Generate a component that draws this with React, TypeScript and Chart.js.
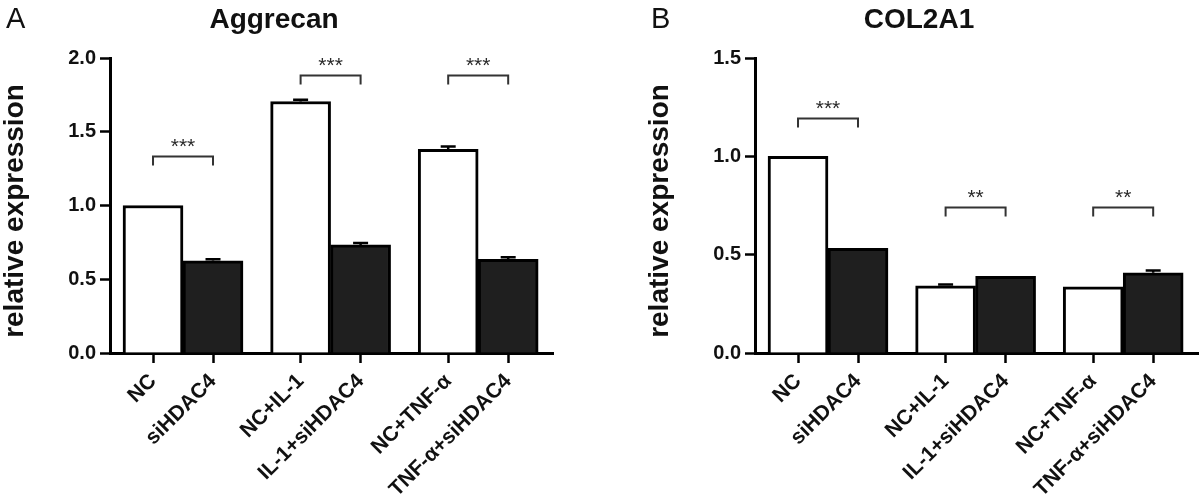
import React, { useEffect, useRef } from 'react';
import { Chart, registerables } from 'chart.js';

Chart.register(...registerables);

// ---- data ----
const categories = ['NC', 'siHDAC4', 'NC+IL-1', 'IL-1+siHDAC4', 'NC+TNF-α', 'TNF-α+siHDAC4'];

const aggrecanValues = [1.0, 0.625, 1.705, 0.733, 1.38, 0.635];
const aggrecanErrors = [0, 0.01, 0.012, 0.012, 0.02, 0.015];
const aggrecanBrackets = [1.338, 1.885, 1.885];
const aggrecanStars = ['***', '***', '***'];
const aggrecanYTicks = [0, 0.5, 1.0, 1.5, 2.0];

const col2a1Values = [1.0, 0.532, 0.342, 0.39, 0.336, 0.408];
const col2a1Errors = [0, 0, 0.006, 0, 0, 0.012];
const col2a1Brackets = [1.195, 0.742, 0.74];
const col2a1Stars = ['***', '**', '**'];
const col2a1YTicks = [0, 0.5, 1.0, 1.5];

const yAxisTitle = 'relative expression';

// ---- layout / style ----
const FONT = '"Liberation Sans", Arial, Helvetica, sans-serif';
const GROUP_STEP = 2.46;
const pos = (i: number) => Math.floor(i / 2) * GROUP_STEP + (i % 2);
const INK = '#111111';
const BLACK_FILL = '#1f1f1f';

interface PanelCfg {
  letter: string;
  title: string;
  values: number[];
  errors: number[];
  brackets: number[];
  stars: string[];
  yTicks: number[];
}

function makeAnnotPlugin(cfg: PanelCfg) {
  return {
    id: 'annot',
    afterDatasetsDraw(chart: any) {
      const { ctx } = chart;
      const x = chart.scales.x;
      const y = chart.scales.y;
      ctx.save();
      // error bars
      ctx.strokeStyle = '#000';
      ctx.lineWidth = 2.5;
      cfg.values.forEach((v, i) => {
        const e = cfg.errors[i];
        if (!e) return;
        const px = x.getPixelForValue(pos(i));
        const y0 = y.getPixelForValue(v);
        const y1 = y.getPixelForValue(v + e);
        ctx.beginPath();
        ctx.moveTo(px, y0);
        ctx.lineTo(px, y1);
        ctx.moveTo(px - 7.5, y1);
        ctx.lineTo(px + 7.5, y1);
        ctx.stroke();
      });
      // significance brackets
      ctx.strokeStyle = '#333';
      ctx.lineWidth = 2;
      ctx.fillStyle = '#2a2a2a';
      ctx.font = `21px ${FONT}`;
      ctx.textAlign = 'center';
      ctx.textBaseline = 'alphabetic';
      cfg.brackets.forEach((b, g) => {
        const x1 = x.getPixelForValue(pos(2 * g));
        const x2 = x.getPixelForValue(pos(2 * g + 1));
        const yt = Math.round(y.getPixelForValue(b)) + 0.5;
        ctx.beginPath();
        ctx.moveTo(x1, yt + 9);
        ctx.lineTo(x1, yt);
        ctx.lineTo(x2, yt);
        ctx.lineTo(x2, yt + 9);
        ctx.stroke();
        ctx.fillText(cfg.stars[g], (x1 + x2) / 2, yt - 4);
      });
      ctx.restore();
    },
    afterDraw(chart: any) {
      const { ctx } = chart;
      ctx.save();
      ctx.fillStyle = INK;
      ctx.textBaseline = 'alphabetic';
      ctx.textAlign = 'left';
      ctx.font = `29px ${FONT}`;
      ctx.fillText(cfg.letter, 6, 28);
      ctx.textAlign = 'center';
      ctx.font = `bold 28px ${FONT}`;
      ctx.fillText(cfg.title, 274, 28);
      // y axis title
      ctx.translate(23, 211);
      ctx.rotate(-Math.PI / 2);
      ctx.font = `bold 28px ${FONT}`;
      ctx.fillText(yAxisTitle, 0, 0);
      ctx.restore();
    },
  };
}

function Panel({ cfg, left }: { cfg: PanelCfg; left: number }) {
  const ref = useRef<HTMLCanvasElement | null>(null);
  useEffect(() => {
    if (!ref.current) return;
    const yFont = { family: FONT, size: 20, weight: 'bold' as const };
    const xFont = { family: FONT, size: 21, weight: 'bold' as const };
    const chart = new Chart(ref.current, {
      type: 'bar',
      data: {
        datasets: [
          {
            data: cfg.values.map((v, i) => ({ x: pos(i), y: v })),
            backgroundColor: cfg.values.map((_, i) => (i % 2 === 0 ? '#ffffff' : BLACK_FILL)),
            borderColor: '#000',
            borderWidth: 3,
            barPercentage: 1,
            categoryPercentage: 1,
          },
        ],
      },
      options: {
        responsive: false,
        animation: false,
        devicePixelRatio: 1,
        layout: { padding: { top: 58, right: 2, left: 0, bottom: 0 } },
        plugins: {
          legend: { display: false },
          tooltip: { enabled: false },
          title: { display: false },
        },
        scales: {
          x: {
            type: 'linear',
            offset: false,
            min: -0.717,
            max: 6.667,
            afterBuildTicks: (s: any) => {
              s.ticks = categories.map((_, i) => ({ value: pos(i) }));
            },
            afterFit: (s: any) => {
              s.height = 141;
            },
            ticks: {
              autoSkip: false,
              minRotation: 45,
              maxRotation: 45,
              padding: 6,
              color: INK,
              font: xFont,
              callback: (_v: any, i: number) => categories[i],
            },
            grid: {
              display: true,
              offset: false,
              drawOnChartArea: false,
              drawTicks: true,
              tickLength: 10,
              tickWidth: 2.5,
              tickColor: '#000',
            },
            border: { display: true, width: 3, color: '#000' },
          },
          y: {
            min: 0,
            max: cfg.yTicks[cfg.yTicks.length - 1],
            afterBuildTicks: (s: any) => {
              s.ticks = cfg.yTicks.map((v) => ({ value: v }));
            },
            afterFit: (s: any) => {
              s.width = 110;
            },
            ticks: {
              padding: 4,
              color: INK,
              font: yFont,
              callback: (v: any) => Number(v).toFixed(1),
            },
            grid: {
              display: true,
              drawOnChartArea: false,
              drawTicks: true,
              tickLength: 10,
              tickWidth: 2.5,
              tickColor: '#000',
            },
            border: { display: true, width: 3, color: '#000' },
          },
        },
      } as any,
      plugins: [makeAnnotPlugin(cfg)],
    });
    return () => chart.destroy();
  }, [cfg]);
  return (
    <canvas
      ref={ref}
      width={555}
      height={494}
      style={{ position: 'absolute', left, top: 0, width: 555, height: 494, display: 'block' }}
    />
  );
}

const panelA: PanelCfg = {
  letter: 'A',
  title: 'Aggrecan',
  values: aggrecanValues,
  errors: aggrecanErrors,
  brackets: aggrecanBrackets,
  stars: aggrecanStars,
  yTicks: aggrecanYTicks,
};

const panelB: PanelCfg = {
  letter: 'B',
  title: 'COL2A1',
  values: col2a1Values,
  errors: col2a1Errors,
  brackets: col2a1Brackets,
  stars: col2a1Stars,
  yTicks: col2a1YTicks,
};

export default function App() {
  return (
    <div style={{ position: 'absolute', left: 0, top: 0, width: 1200, height: 494, background: '#fff', overflow: 'hidden' }}>
      <Panel cfg={panelA} left={0} />
      <Panel cfg={panelB} left={645} />
    </div>
  );
}
